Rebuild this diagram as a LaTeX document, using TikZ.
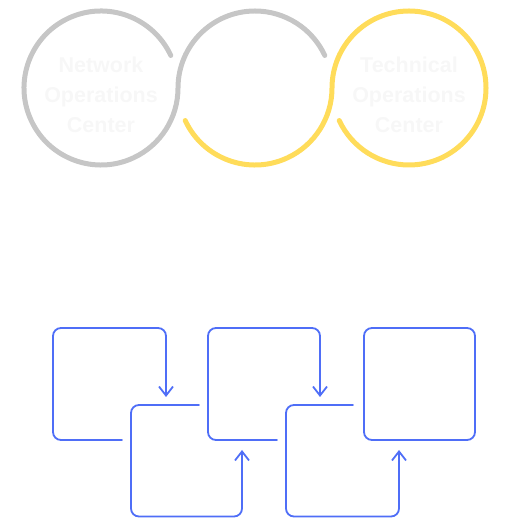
\documentclass[tikz,border=0pt]{standalone}
\usepackage{fontspec}
\setmainfont{Liberation Sans}
\usepackage{tikz}
\usetikzlibrary{arrows.meta, calc, positioning}
\definecolor{RingG}{HTML}{C6C6C6}
\definecolor{RingY}{HTML}{FFDC5A}
\definecolor{FlowB}{HTML}{4F6EF7}
\definecolor{Ghost}{HTML}{F7F7F7}
\tikzset{
  ring/.style args={#1}{
    draw=#1, line width=5pt, line cap=round,
  },
  ghostlbl/.style={
    font=\fontsize{21.5}{30}\selectfont\bfseries, text=Ghost,
    align=center, inner sep=0pt,
  },
  flow/.style={
    draw=FlowB, line width=1.8pt, rounded corners=8pt,
    line cap=round, line join=round,
  },
  flowarr/.style={
    flow, -{Straight Barb[length=9pt,width=14pt]},
  },
  % closed box at the end of the chain
  endbox/.style={
    rectangle, rounded corners=8pt, draw=FlowB, line width=1.8pt,
    minimum width=111pt, minimum height=112pt, inner sep=0pt,
  },
}
\begin{document}
\begin{tikzpicture}[x=1pt,y=1pt]
  \useasboundingbox (0,0) rectangle (508,519);

  % three rings
  \coordinate (C1) at (101,431);
  \coordinate (C2) at (255,431);
  \coordinate (C3) at (409,431);

  \node[ghostlbl] (NOC) at (101,424) {Network\\Operations\\Center};
  \node[ghostlbl] (TOC) at (409,424) {Technical\\Operations\\Center};

  \draw[ring=RingG] ($(C1)+(25:77)$) arc[start angle=25, end angle=360, radius=77]
        arc[start angle=180, end angle=25, radius=77];
  \draw[ring=RingY] ($(C2)+(205:77)$) arc[start angle=205, end angle=360, radius=77]
        arc[start angle=180, end angle=-155, radius=77];

  % blue chain of boxes
  \node[endbox] (E) at (419.5,135) {};

  \coordinate (A0) at (122,79);
  \coordinate (A1) at (53,191);
  \coordinate (A2) at (166,122);
  \coordinate (B0) at (199,114);
  \coordinate (B1) at (131,2.5);
  \coordinate (B2) at (242,69);
  \coordinate (D0) at (277,79);
  \coordinate (D1) at (208,191);
  \coordinate (D2) at (320,122);
  \coordinate (F0) at (353,114);
  \coordinate (F1) at (286,2.5);
  \coordinate (F2) at (399,69);

  \draw[flowarr] (A0) -| (A1) -| (A2);
  \draw[flowarr] (B0) -| (B1) -| (B2);
  \draw[flowarr] (D0) -| (D1) -| (D2);
  \draw[flowarr] (F0) -| (F1) -| (F2);

\end{tikzpicture}
\end{document}
